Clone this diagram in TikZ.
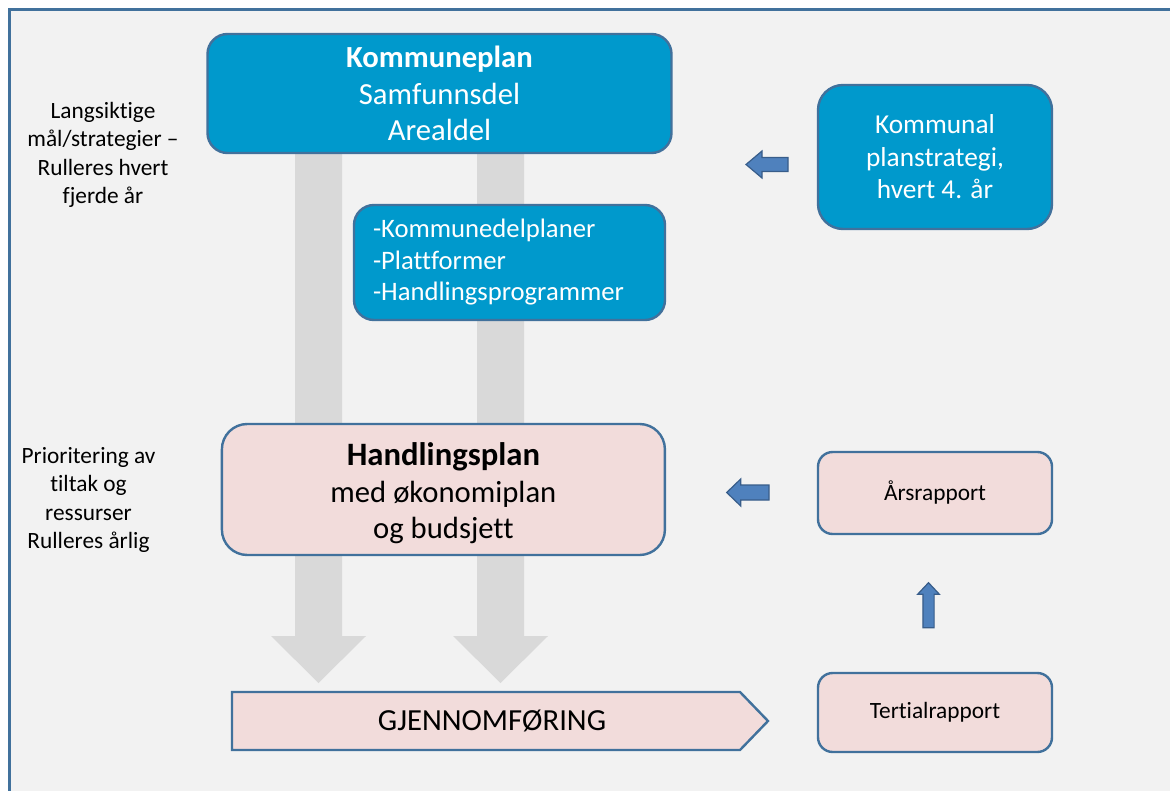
\documentclass[tikz,border=0pt]{standalone}
\usepackage{fontspec}
\setmainfont{Carlito}[Ligatures=NoCommon]

\begin{document}
\begin{tikzpicture}[x=0.75pt,y=-0.75pt]
  \definecolor{kblue}{RGB}{0,153,204}
  \definecolor{kpink}{RGB}{242,220,219}
  \definecolor{kline}{RGB}{65,113,156}
  \definecolor{kgray}{RGB}{217,217,217}
  \definecolor{kbg}{RGB}{242,242,242}
  \definecolor{arrfill}{RGB}{79,129,189}
  \definecolor{arrline}{RGB}{56,93,138}
  \tikzset{
    bluebox/.style={
      rectangle, rounded corners=15pt, draw=kline, fill=kblue,
      line width=1.8pt, text=white, align=center, inner sep=0pt
    },
    pinkbox/.style={
      rectangle, rounded corners=11pt, draw=kline, fill=kpink,
      line width=1.8pt, align=center, inner sep=0pt
    },
    sidetxt/.style={
      align=center, inner sep=0pt, font=\fontsize{17.5}{21.4}\selectfont
    },
    blkarr/.style={fill=arrfill, draw=arrline, line width=0.9pt},
    bigarr/.style={fill=kgray}
  }

  % ======= ramme og bakgrunn =======
  \clip (0,0) rectangle (1170,791);
  \fill[white] (0,0) rectangle (1170,791);
  \draw[fill=kbg, draw=kline, line width=2.2pt] (9.5,9.5) rectangle (1190,810);

  % ======= store grå piler (bak boksene) =======
  \fill[bigarr] (295,150) -- (342,150) -- (342,636) -- (366,636) -- (318.5,683)
    -- (271,636) -- (295,636) -- cycle;
  \fill[bigarr] (477,150) -- (524,150) -- (524,636) -- (548,636) -- (500.5,683)
    -- (453,636) -- (477,636) -- cycle;

  % ======= venstre tekster =======
  \node[sidetxt] (lang) at (103,155) {Langsiktige\\mål/strategier –\\Rulleres hvert\\fjerde år};
  \node[sidetxt] (prio) at (88.5,500) {Prioritering av\\tiltak og\\ressurser\\Rulleres årlig};

  % ======= blå bokser =======
  \node[bluebox, minimum width=348pt, minimum height=89.25pt,
    font=\fontsize{23}{27.5}\selectfont] (kplan) at (439.5,93.5)
    {\textbf{Kommuneplan}\\Samfunnsdel\\Arealdel};
  \node[bluebox, minimum width=233.25pt, minimum height=86.25pt,
    text width=204.75pt, align=left, font=\fontsize{20}{23.6}\selectfont] (kdel) at (509.5,262.5)
    {-Kommunedelplaner\\-Plattformer\\-Handlingsprogrammer};
  \node[bluebox, rounded corners=18.75pt, minimum width=175.5pt, minimum height=108pt,
    font=\fontsize{20.5}{24.4}\selectfont] (kstrat) at (935,157)
    {Kommunal\\planstrategi,\\hvert 4. år};

  % ======= rosa bokser =======
  \node[pinkbox, rounded corners=19pt, minimum width=332.25pt, minimum height=98.25pt,
    font=\fontsize{23}{27.4}\selectfont] (hplan) at (443.4,489.5)
    {\rule{0pt}{23pt}{\fontsize{24.5}{27.4}\selectfont\textbf{Handlingsplan}}\\med økonomiplan\\og budsjett};
  \node[pinkbox, minimum width=175.5pt, minimum height=61.5pt,
    font=\fontsize{17.5}{21}\selectfont] (aars) at (935,493) {Årsrapport};
  \node[pinkbox, minimum width=175.5pt, minimum height=59.25pt,
    font=\fontsize{17.5}{21}\selectfont] (tert) at (935,712.5) {Tertialrapport};

  % ======= gjennomføring =======
  \draw[fill=kpink, draw=kline, line width=1.8pt] (232,692) -- (740,692) -- (768,721)
    -- (740,750) -- (232,750) -- cycle;
  \node[font=\fontsize{23}{27}\selectfont, inner sep=0pt] (gjen) at (492,721) {GJENNOMFØRING};

  % ======= små blå piler =======
  \draw[blkarr, shift={(746,164.5)}] (0,0) -- (16,-13.5) -- (16,-7) -- (42,-7)
    -- (42,7) -- (16,7) -- (16,13.5) -- cycle;
  \draw[blkarr, shift={(726.7,492.5)}] (0,0) -- (14,-13.5) -- (14,-7.5) -- (42.3,-7.5)
    -- (42.3,7.5) -- (14,7.5) -- (14,13.5) -- cycle;
  \draw[blkarr, shift={(928.5,582.7)}] (0,0) -- (10.8,11.5) -- (5.6,11.5) -- (5.6,45)
    -- (-5.6,45) -- (-5.6,11.5) -- (-10.8,11.5) -- cycle;
\end{tikzpicture}
\end{document}
